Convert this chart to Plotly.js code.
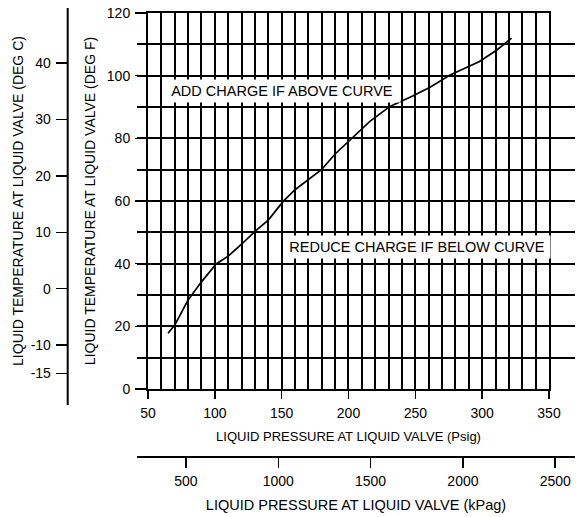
<!DOCTYPE html>
<html>
<head>
<meta charset="utf-8">
<script src="https://cdn.plot.ly/plotly-3.0.1.min.js"></script>
<style>html,body{margin:0;padding:0;background:#fff;}#chart{width:579px;height:517px;}</style>
</head>
<body>
<div id="chart"></div>
<script>
// ---- data ----
const pressurePsig = [65, 70, 80, 90, 101, 110, 120, 130, 140, 151, 160, 180, 190, 202, 216, 231, 248, 261, 276, 298, 311, 322];
const tempDegF     = [17.8, 20.4, 28.4, 34.2, 39.9, 42.4, 46.2, 50.3, 53.9, 59.8, 63.6, 70.1, 75.0, 79.7, 85.4, 90.2, 93.5, 96.3, 100.2, 104.5, 108.2, 112.0];

const psiTicks  = [50, 100, 150, 200, 250, 300, 350];
const degFTicks = [0, 20, 40, 60, 80, 100, 120];
const degCTicks = [40, 30, 20, 10, 0, -10, -15];
const kpaTicks  = [500, 1000, 1500, 2000, 2500];

const psiGrid  = [50, 60, 70, 80, 90, 100, 110, 120, 130, 140, 150, 160, 170, 180, 190, 200,
                  210, 220, 230, 240, 250, 260, 270, 280, 290, 300, 310, 320, 330, 340, 350];
const degFGrid = [0, 10, 20, 30, 40, 50, 60, 70, 80, 90, 100, 110, 120];

const labelAbove = "ADD CHARGE IF ABOVE CURVE";
const labelBelow = "REDUCE CHARGE IF BELOW CURVE";

// ---- axis ranges ----
const psiRange = [50, 350];
const degFRange = [0, 120];
const kpaRange = [235, 2607];   // secondary pressure scale as printed on the reference
const fToC = f => (f - 32) / 1.8;

const xDomain = [0.17087, 0.94951];
const x2Domain = [0.14951, 1.0];
const yDomain = [0.14889, 0.98444];

const FONT = "Liberation Sans, Arial, Helvetica, sans-serif";

const traces = [
  {
    x: pressurePsig, y: tempDegF, type: 'scatter', mode: 'lines',
    line: {color: '#000', width: 1.7},
    hoverinfo: 'skip', showlegend: false
  },
  {x: [], y: [], xaxis: 'x', yaxis: 'y2', type: 'scatter', mode: 'lines', showlegend: false, hoverinfo: 'skip'},
  {x: [], y: [], xaxis: 'x2', yaxis: 'y', type: 'scatter', mode: 'lines', showlegend: false, hoverinfo: 'skip'}
];

const layout = {
  width: 579, height: 517,
  margin: {l: 60, r: 4, t: 6, b: 61},
  paper_bgcolor: '#fff', plot_bgcolor: 'rgba(0,0,0,0)',
  font: {family: FONT, size: 14, color: '#000'},
  showlegend: false,
  xaxis: {
    domain: xDomain, range: psiRange, anchor: 'y',
    tickmode: 'array', tickvals: psiTicks, ticktext: psiTicks.map(String),
    ticks: 'outside', ticklen: 8, tickwidth: 1.5, tickcolor: '#000',
    showgrid: true, gridcolor: '#000', gridwidth: 2,
    minor: {tickmode: 'array', tickvals: psiGrid, showgrid: true, gridcolor: '#000', gridwidth: 2, ticks: ''},
    showline: true, linecolor: '#000', linewidth: 2, mirror: true,
    zeroline: false, automargin: false,
    tickfont: {size: 14}, ticklabelstandoff: 2,
    title: {text: 'LIQUID PRESSURE AT LIQUID VALVE (Psig)', font: {size: 13}, standoff: 12}
  },
  xaxis2: {
    domain: x2Domain, range: kpaRange, anchor: 'free', position: 0, side: 'bottom',
    tickmode: 'array', tickvals: kpaTicks, ticktext: kpaTicks.map(String),
    ticks: 'outside', ticklen: 10, tickwidth: 1.5, tickcolor: '#000',
    showgrid: false, zeroline: false,
    showline: true, linecolor: '#000', linewidth: 1.5,
    automargin: false, tickfont: {size: 14}, ticklabelstandoff: 2,
    ticklabeloverflow: 'allow',
    title: {text: 'LIQUID PRESSURE AT LIQUID VALVE (kPag)', font: {size: 14.5}, standoff: 11}
  },
  yaxis: {
    domain: yDomain, range: degFRange, anchor: 'x',
    tickmode: 'array', tickvals: degFTicks, ticktext: degFTicks.map(String),
    ticks: 'outside', ticklen: 11, tickwidth: 1.5, tickcolor: '#000',
    showgrid: true, gridcolor: '#000', gridwidth: 2,
    minor: {tickmode: 'array', tickvals: degFGrid, showgrid: true, gridcolor: '#000', gridwidth: 2, ticks: ''},
    showline: true, linecolor: '#000', linewidth: 2, mirror: true,
    zeroline: false, automargin: false,
    tickfont: {size: 14}, ticklabelstandoff: 2,
    title: {text: 'LIQUID TEMPERATURE AT LIQUID VALVE (DEG F)', font: {size: 14}, standoff: 8}
  },
  yaxis2: {
    overlaying: 'y', anchor: 'free', position: 0.01495, side: 'left',
    range: degFRange.map(fToC),
    tickmode: 'array', tickvals: degCTicks, ticktext: degCTicks.map(String),
    ticks: 'outside', ticklen: 12, tickwidth: 1.5, tickcolor: '#000',
    showgrid: false, zeroline: false, showline: false,
    automargin: false, tickfont: {size: 14}, ticklabelstandoff: 2,
    title: {text: 'LIQUID TEMPERATURE AT LIQUID VALVE (DEG C)', font: {size: 14}, standoff: 2}
  },
  shapes: [
    {type: 'line', xref: 'paper', yref: 'paper', x0: 0.01495, x1: 0.01495, y0: 0.1133, y1: 0.99556,
     line: {color: '#000', width: 2}}
  ],
  annotations: [
    {x: 150, y: 95, xref: 'x', yref: 'y', text: labelAbove, showarrow: false,
     xanchor: 'center', yanchor: 'middle', bgcolor: '#fff', width: 232, height: 18, borderpad: 2,
     font: {size: 14.5, color: '#000'}},
    {x: 251, y: 45.4, xref: 'x', yref: 'y', text: labelBelow, showarrow: false,
     xanchor: 'center', yanchor: 'middle', bgcolor: '#fff', width: 262, height: 18, borderpad: 2,
     font: {size: 14.5, color: '#000'}}
  ]
};

Plotly.newPlot('chart', traces, layout, {staticPlot: true, displayModeBar: false});
</script>
</body>
</html>
